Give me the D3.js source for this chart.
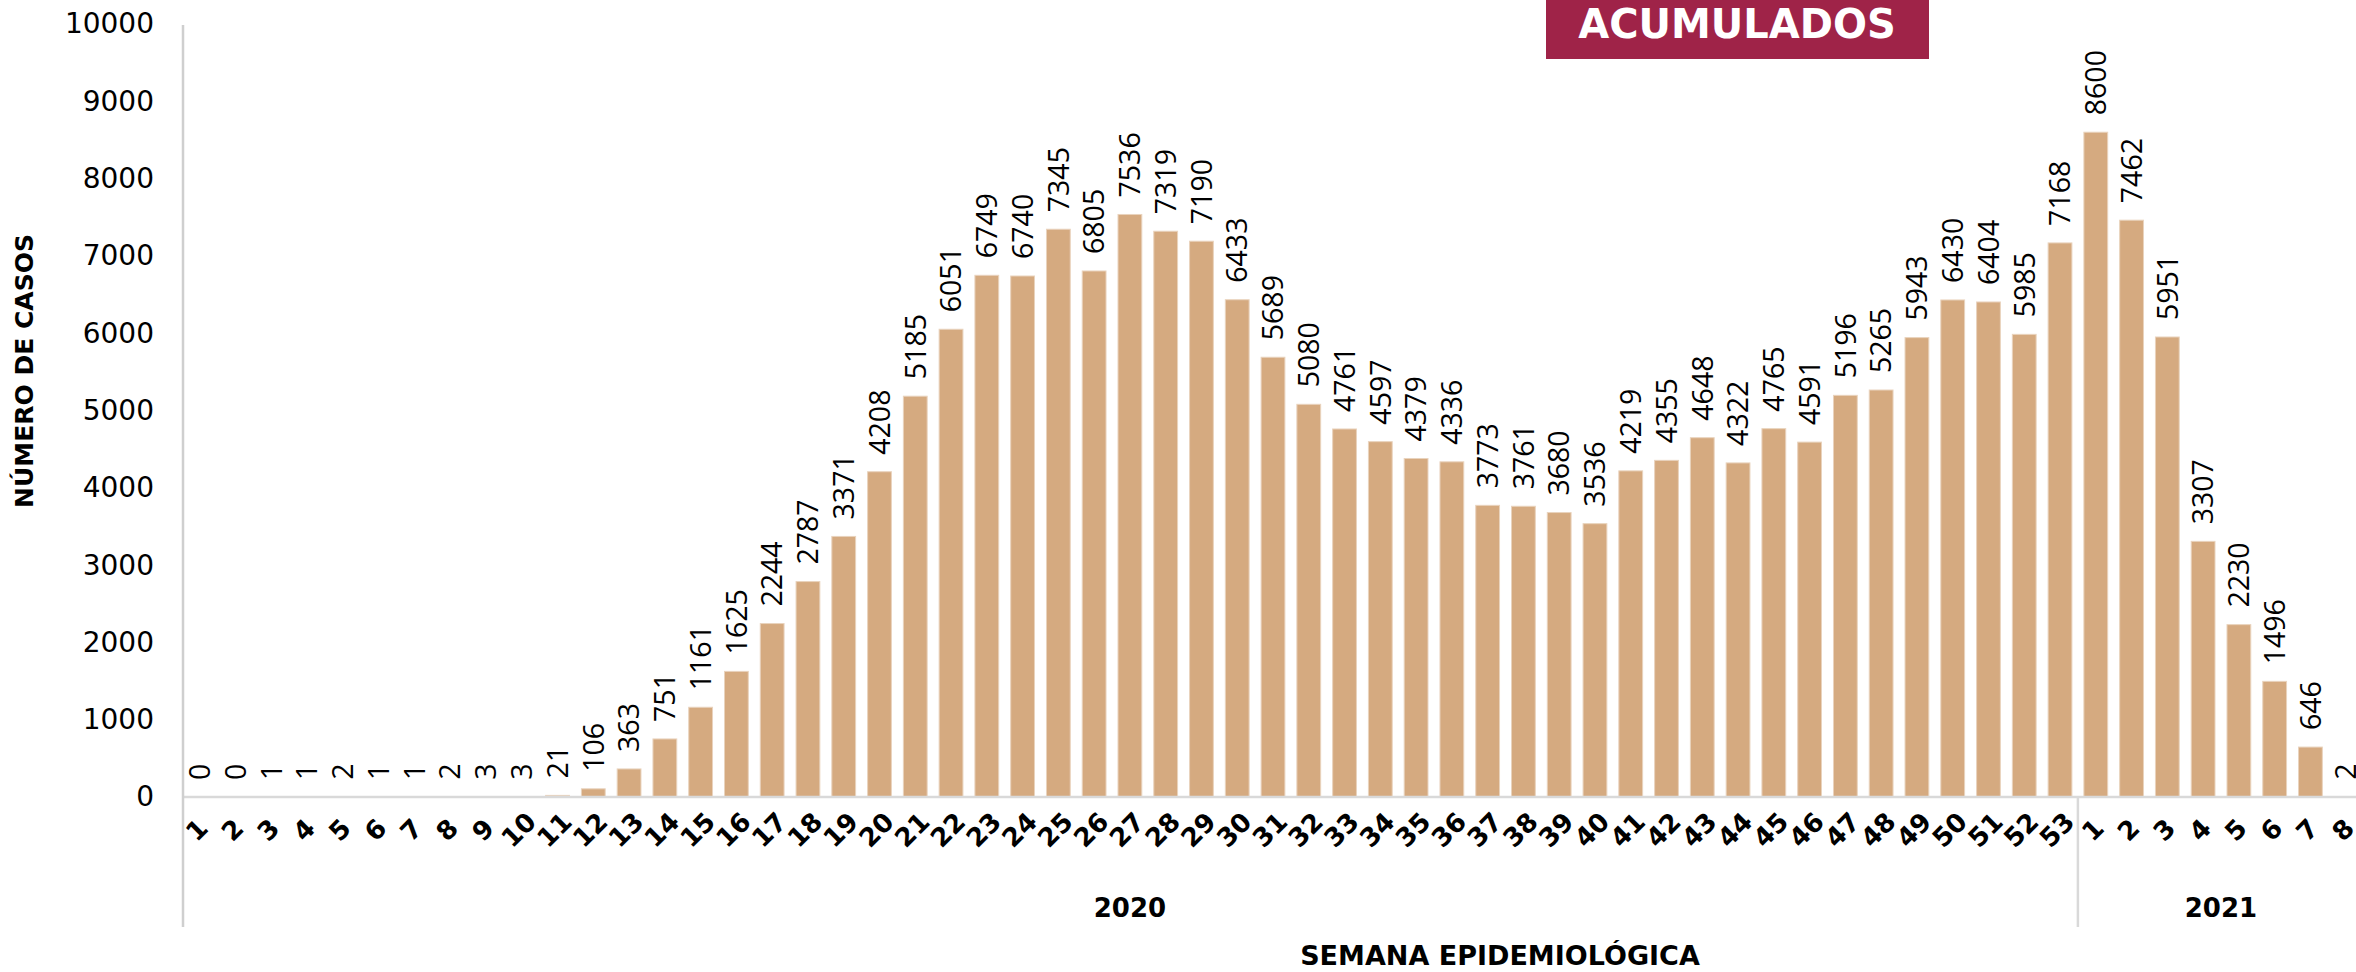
<!DOCTYPE html>
<html lang="es">
<head>
	<meta charset="UTF-8"/>
	<title>Casos acumulados por semana epidemiológica</title>
	<script src="https://d3js.org/d3.v7.min.js"></script>
	<style>
		body { margin: 0; background: #fff; }
		svg { display: block; }
	</style>
</head>
<body>
	<script>
		var w = 2356;
		var h = 972;

		// semanas epidemiológicas
		var weeks2020 = d3.range(1, 54);
		var weeks2021 = d3.range(1, 9);

		var cases2020 = [0, 0, 1, 1, 2, 1, 1, 2, 3, 3,
			21, 106, 363, 751, 1161, 1625, 2244, 2787, 3371, 4208,
			5185, 6051, 6749, 6740, 7345, 6805, 7536, 7319, 7190, 6433,
			5689, 5080, 4761, 4597, 4379, 4336, 3773, 3761, 3680, 3536,
			4219, 4355, 4648, 4322, 4765, 4591, 5196, 5265, 5943, 6430,
			6404, 5985, 7168];
		var cases2021 = [8600, 7462, 5951, 3307, 2230, 1496, 646, 2];

		var yTicks = [0, 1000, 2000, 3000, 4000, 5000, 6000, 7000, 8000, 9000, 10000];
		var years = ["2020", "2021"];

		var dataset = weeks2020.map(function(wk, i) { return { year: "2020", week: wk, value: cases2020[i] }; })
			.concat(weeks2021.map(function(wk, i) { return { year: "2021", week: wk, value: cases2021[i] }; }));

		var plotLeft = 182, plotRight = 2364, plotTop = 24, plotBottom = 797;

		var xScale = d3.scaleBand()
			.domain(dataset.map(function(d) { return d.year + "-" + d.week; }))
			.range([plotLeft, plotRight])
			.paddingInner(0.335)
			.paddingOuter(0.165);

		var yScale = d3.scaleLinear()
			.domain([0, 10000])
			.range([plotBottom, plotTop]);

		var svg = d3.select("body")
			.append("svg")
			.attr("width", w)
			.attr("height", h);

		// Y axis
		var yAxis = svg.append("g")
			.attr("transform", "translate(" + (plotLeft - 28) + ",0)")
			.call(d3.axisLeft(yScale).tickValues(yTicks).tickSize(0).tickPadding(0).tickFormat(d3.format("d")));
		yAxis.select(".domain").remove();
		yAxis.selectAll("text")
			.attr("font-family", "DejaVu Sans")
			.attr("font-size", 28)
			.attr("fill", "#000");

		// bars
		svg.selectAll("rect.bar")
			.data(dataset)
			.enter()
			.append("rect")
			.attr("class", "bar")
			.attr("x", function(d) { return xScale(d.year + "-" + d.week); })
			.attr("y", function(d) { return yScale(d.value); })
			.attr("width", xScale.bandwidth())
			.attr("height", function(d) { return plotBottom - yScale(d.value); })
			.attr("fill", "#d5aa80")
			.attr("stroke", "#e9d3bd")
			.attr("stroke-width", 1);

		// value labels
		svg.selectAll("text.val")
			.data(dataset)
			.enter()
			.append("text")
			.attr("class", "val")
			.attr("transform", function(d) {
				var cx = xScale(d.year + "-" + d.week) + xScale.bandwidth() / 2;
				return "translate(" + cx + "," + (yScale(d.value) - 17) + ") rotate(-90)";
			})
			.attr("dy", "0.36em")
			.attr("font-family", "Open Sans")
			.attr("font-size", 28.5)
			.attr("fill", "#000")
			.text(function(d) { return d.value; });

		// X axis
		var xAxis = svg.append("g")
			.attr("transform", "translate(0," + plotBottom + ")")
			.call(d3.axisBottom(xScale).tickSize(0).tickFormat(function(k) { return k.split("-")[1]; }));
		xAxis.select(".domain").remove();
		xAxis.selectAll("text")
			.attr("y", 0)
			.attr("dy", 0)
			.attr("transform", "translate(-2,34) rotate(-45)")
			.attr("dominant-baseline", "middle")
			.attr("text-anchor", "middle")
			.attr("font-family", "DejaVu Sans")
			.attr("font-weight", "bold")
			.attr("font-size", 26)
			.attr("fill", "#000");

		// axis lines
		svg.append("line")
			.attr("x1", plotLeft).attr("x2", w)
			.attr("y1", plotBottom).attr("y2", plotBottom)
			.attr("stroke", "#d9d9d9").attr("stroke-width", 2.5);

		var sepX = xScale("2021-1") - xScale.step() * xScale.paddingInner() / 2;
		svg.append("line")
			.attr("x1", plotLeft + 1).attr("x2", plotLeft + 1)
			.attr("y1", plotTop + 1).attr("y2", 927)
			.attr("stroke", "#cfcfcf").attr("stroke-width", 2.5);
		svg.append("line")
			.attr("x1", sepX).attr("x2", sepX)
			.attr("y1", plotBottom).attr("y2", 927)
			.attr("stroke", "#d9d9d9").attr("stroke-width", 2.5);

		// year labels
		var yearCenters = [(plotLeft + sepX) / 2, (sepX + plotRight) / 2];
		svg.selectAll("text.year")
			.data(years)
			.enter()
			.append("text")
			.attr("class", "year")
			.attr("x", function(d, i) { return yearCenters[i]; })
			.attr("y", 908)
			.attr("dy", "0.35em")
			.attr("text-anchor", "middle")
			.attr("font-family", "DejaVu Sans")
			.attr("font-weight", "bold")
			.attr("font-size", 26)
			.text(function(d) { return d; });

		// axis titles
		svg.append("text")
			.attr("x", 1500)
			.attr("y", 956)
			.attr("dy", "0.35em")
			.attr("text-anchor", "middle")
			.attr("font-family", "DejaVu Sans")
			.attr("font-weight", "bold")
			.attr("font-size", 27)
			.text("SEMANA EPIDEMIOLÓGICA");

		svg.append("text")
			.attr("transform", "translate(24,371) rotate(-90)")
			.attr("dy", "0.35em")
			.attr("text-anchor", "middle")
			.attr("font-family", "DejaVu Sans")
			.attr("font-weight", "bold")
			.attr("font-size", 25)
			.text("NÚMERO DE CASOS");

		// badge
		svg.append("rect")
			.attr("x", 1546).attr("y", 0)
			.attr("width", 383).attr("height", 59)
			.attr("fill", "#9f2348");
		svg.append("text")
			.attr("x", 1737)
			.attr("y", 38)
			.attr("text-anchor", "middle")
			.attr("font-family", "DejaVu Sans")
			.attr("font-weight", "bold")
			.attr("font-size", 40)
			.attr("fill", "#fff")
			.text("ACUMULADOS");
	</script>
</body>
</html>
